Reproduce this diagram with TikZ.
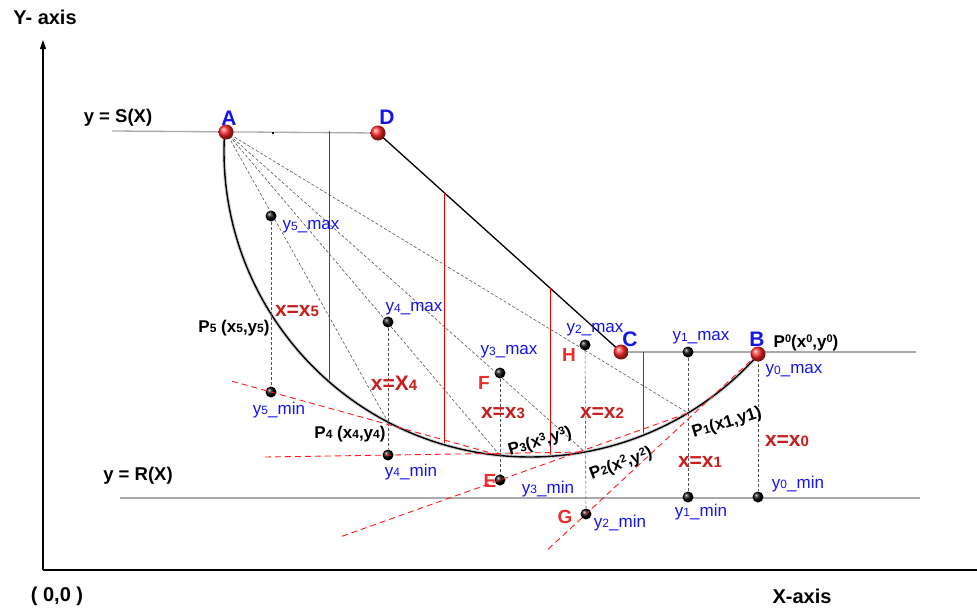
\documentclass[tikz,border=0pt]{standalone}
\usepackage{fontspec}
\setmainfont{Liberation Sans}
\usetikzlibrary{arrows.meta,calc}
\definecolor{lblue}{RGB}{20,20,235}
\definecolor{dred}{RGB}{200,30,30}
\definecolor{bred}{RGB}{235,45,45}
\definecolor{lgray}{RGB}{170,170,170}
\definecolor{dgray}{RGB}{85,85,85}
\newcommand{\lo}[1]{\raisebox{-0.5pt}{\fontsize{12}{12}\selectfont #1}}
\newcommand{\hi}[1]{\raisebox{4.5pt}{\fontsize{11}{11}\selectfont #1}}
\newcommand{\rdg}[1]{{\fontsize{15}{15}\selectfont #1}}
\begin{document}
\begin{tikzpicture}[x=1pt,y=-1pt,
  blab/.style={text=lblue,font=\fontsize{17}{17}\selectfont,inner sep=0pt},
  rlab/.style={text=dred,font=\bfseries\fontsize{21}{21}\selectfont,inner sep=0pt},
  plab/.style={text=black,font=\bfseries\fontsize{17}{17}\selectfont,inner sep=0pt},
  ptname/.style={text=lblue,font=\bfseries\fontsize{21}{21}\selectfont,inner sep=0pt},
  letr/.style={text=bred,font=\bfseries\fontsize{19}{19}\selectfont,inner sep=0pt},
  axlab/.style={font=\bfseries\fontsize{20}{20}\selectfont,inner sep=0pt},
  bdot/.style={circle,inner sep=0pt,minimum size=11pt,ball color=black},
  rball/.style={circle,inner sep=0pt,minimum size=15pt,ball color=red!85!white},
  refline/.style={lgray,line width=1.3pt},
  chord/.style={dgray,line width=0.6pt,dash pattern=on 3pt off 2pt},
  guide/.style={dgray,line width=0.6pt,dash pattern=on 3pt off 2pt},
  rvert/.style={red!95!black,line width=0.7pt},
  rdash/.style={red!90!white,line width=0.9pt,dash pattern=on 6pt off 4pt}]
\useasboundingbox (0,0) rectangle (977,613);

% ---- axes
\coordinate (orig) at (43,570);
\coordinate (ytop) at (43,40);
\coordinate (xend) at (977,570);
\draw[line width=1.2pt,-{Triangle[length=9pt,width=6pt]}] (orig) -- (ytop);
\draw[line width=1.5pt] (orig) -- (xend);

% ---- circle geometry
\coordinate (O) at (530,151);
\coordinate (arcA) at ($(O)+(183.6:306)$);
\coordinate (P5) at ($(O)+(147.8:306)$);
\coordinate (P4) at ($(O)+(117.65:306)$);
\coordinate (P3) at ($(O)+(95.6:306)$);
\coordinate (P2) at ($(O)+(79.65:306)$);
\coordinate (P1) at ($(O)+(58.9:306)$);

% ---- reference lines
\coordinate (sL) at (112,131);
\coordinate (Dp) at (378,133);
\coordinate (Cp) at (621,352);
\coordinate (cR) at (916,352);
\coordinate (rL) at (120,498);
\coordinate (rR) at (920,498);
\draw[refline] (sL) -- (Dp);
\draw[refline] (Cp) -- (cR);
\draw[refline] (rL) -- (rR);
\draw[line width=1.3pt] (Dp) -- (Cp);

% ---- red vertical slices
\coordinate (v1t) at (329,131);  \coordinate (v1b) at (329,382);
\coordinate (v2t) at (444,192.5);\coordinate (v2b) at (444,444.7);
\coordinate (v3t) at (550,288);  \coordinate (v3b) at (550,456);
\coordinate (v4t) at (643,352);  \coordinate (v4b) at (643,435);
\draw[rvert] (v1t) -- (v1b);
\draw[rvert] (v2t) -- (v2b);
\draw[rvert] (v3t) -- (v3b);
\draw[rvert] (v4t) -- (v4b);

% ---- slip surface (with soft shadow)
\draw[black!18,line width=3.5pt,shift={(2,2)}] (arcA) arc[start angle=183.6,end angle=41.8,radius=306];
\draw[line width=1.4pt] (arcA) arc[start angle=183.6,end angle=41.8,radius=306];

% ---- points
\node[bdot] (m5) at (271,216) {};
\node[bdot] (n5) at (271,392) {};
\node[bdot] (m4) at (388,322) {};
\node[bdot] (n4) at (388,455) {};
\node[bdot] (m3) at (500,373) {};
\node[bdot] (n3) at (500,480) {};
\node[bdot] (m2) at (585,345) {};
\node[bdot] (n2) at (586,514) {};
\node[bdot] (m1) at (688,352) {};
\node[bdot] (n1) at (688,497) {};
\node[bdot] (n0) at (758,497) {};

% ---- chords from A
\coordinate (Ac) at (226,132);
\draw[chord] (Ac) -- (P4);
\draw[chord] (Ac) -- (P3);
\draw[chord] (Ac) -- (P2);
\draw[chord] (Ac) -- (P1);

% ---- vertical guides
\draw[guide] (m5) -- (n5);
\draw[guide] (m4) -- (n4);
\draw[guide] (m3) -- (n3);
\draw[guide] (m2) -- (n2);
\draw[guide] (m1) -- (n1);
\coordinate (Bc) at (758,354);
\draw[guide] (Bc) -- (n0);

% ---- red dashed lines
\coordinate (r5s) at ($(n5)!-0.17!(P3)$);
\coordinate (r4s) at (265,457);
\coordinate (r3s) at ($(n3)!-0.84!(P1)$);
\coordinate (r2s) at ($(n2)!-0.22!(Bc)$);
\draw[rdash] (r5s) -- (P3);
\draw[rdash] (r4s) -- (P2);
\draw[rdash] (r3s) -- (P1);
\draw[rdash] (r2s) -- (Bc);

% ---- red balls
\node[rball] (A) at (226,132) {};
\node[rball] (D) at (378,133) {};
\node[rball] (C) at (621,352) {};
\node[rball] (B) at (758,354) {};
\node[fill=black,inner sep=0pt,minimum size=2.2pt] (tick) at (273,133) {};

% ---- axis texts
\node[axlab] (tY) at (45,17) {Y- axis};
\node[axlab] (tO) at (57,596) {( 0,0 )};
\node[axlab] (tX) at (802,596) {X-axis};
\node[plab,font=\bfseries\fontsize{18.5}{18.5}\selectfont] (tS) at (118,118) {y = S(X)};
\node[plab,font=\bfseries\fontsize{18.5}{18.5}\selectfont] (tR) at (138,476) {y = R(X)};

% ---- point names
\node[ptname] (lA) at (229,118) {A};
\node[ptname] (lD) at (387,117) {D};
\node[ptname] (lC) at (630,339) {C};
\node[ptname] (lB) at (757,339) {B};

% ---- blue labels
\node[blab] (l5M) at (311,227) {y\lo{5}\_max};
\node[blab] (l5m) at (279,410) {y\lo{5}\_min};
\node[blab] (l4M) at (414,309) {y\lo{4}\_max};
\node[blab] (l4m) at (411,472) {y\lo{4}\_min};
\node[blab] (l3M) at (509,352) {y\lo{3}\_max};
\node[blab] (l3m) at (548,489) {y\lo{3}\_min};
\node[blab] (l2M) at (595,330) {y\lo{2}\_max};
\node[blab] (l2m) at (620,523) {y\lo{2}\_min};
\node[blab] (l1M) at (701,338) {y\lo{1}\_max};
\node[blab] (l1m) at (701,512) {y\lo{1}\_min};
\node[blab] (l0M) at (794,371) {y\lo{0}\_max};
\node[blab] (l0m) at (798,484) {y\lo{0}\_min};

% ---- red x labels
\node[rlab] (x5) at (297,311) {x=x\rdg{5}};
\node[rlab] (x4) at (394,383) {x=X\rdg{4}};
\node[rlab] (x3) at (503,413) {x=x\rdg{3}};
\node[rlab] (x2) at (602,413) {x=x\rdg{2}};
\node[rlab] (x1) at (700,462) {x=x\rdg{1}};
\node[rlab] (x0) at (787,441) {x=x\rdg{0}};

% ---- red letters
\node[letr] (lF) at (484,383) {F};
\node[letr] (lE) at (490,481) {E};
\node[letr] (lH) at (569,355) {H};
\node[letr] (lG) at (565,517) {G};

% ---- P labels
\node[plab] (p5) at (234,328) {P\lo{5} (x\lo{5},y\lo{5})};
\node[plab] (p4) at (350,434) {P\lo{4} (x\lo{4},y\lo{4})};
\node[plab,rotate=17] (p3) at (540,442) {P\lo{3}(x\hi{3},y\hi{3})};
\node[plab,rotate=20] (p2) at (621,464) {P\lo{2}(x\hi{2},y\hi{2})};
\node[plab,rotate=17] (p1) at (727,423) {P\lo{1}(x1,y1)};
\node[plab] (p0) at (806,343) {P\hi{0}(x\hi{0},y\hi{0})};
\end{tikzpicture}
\end{document}
